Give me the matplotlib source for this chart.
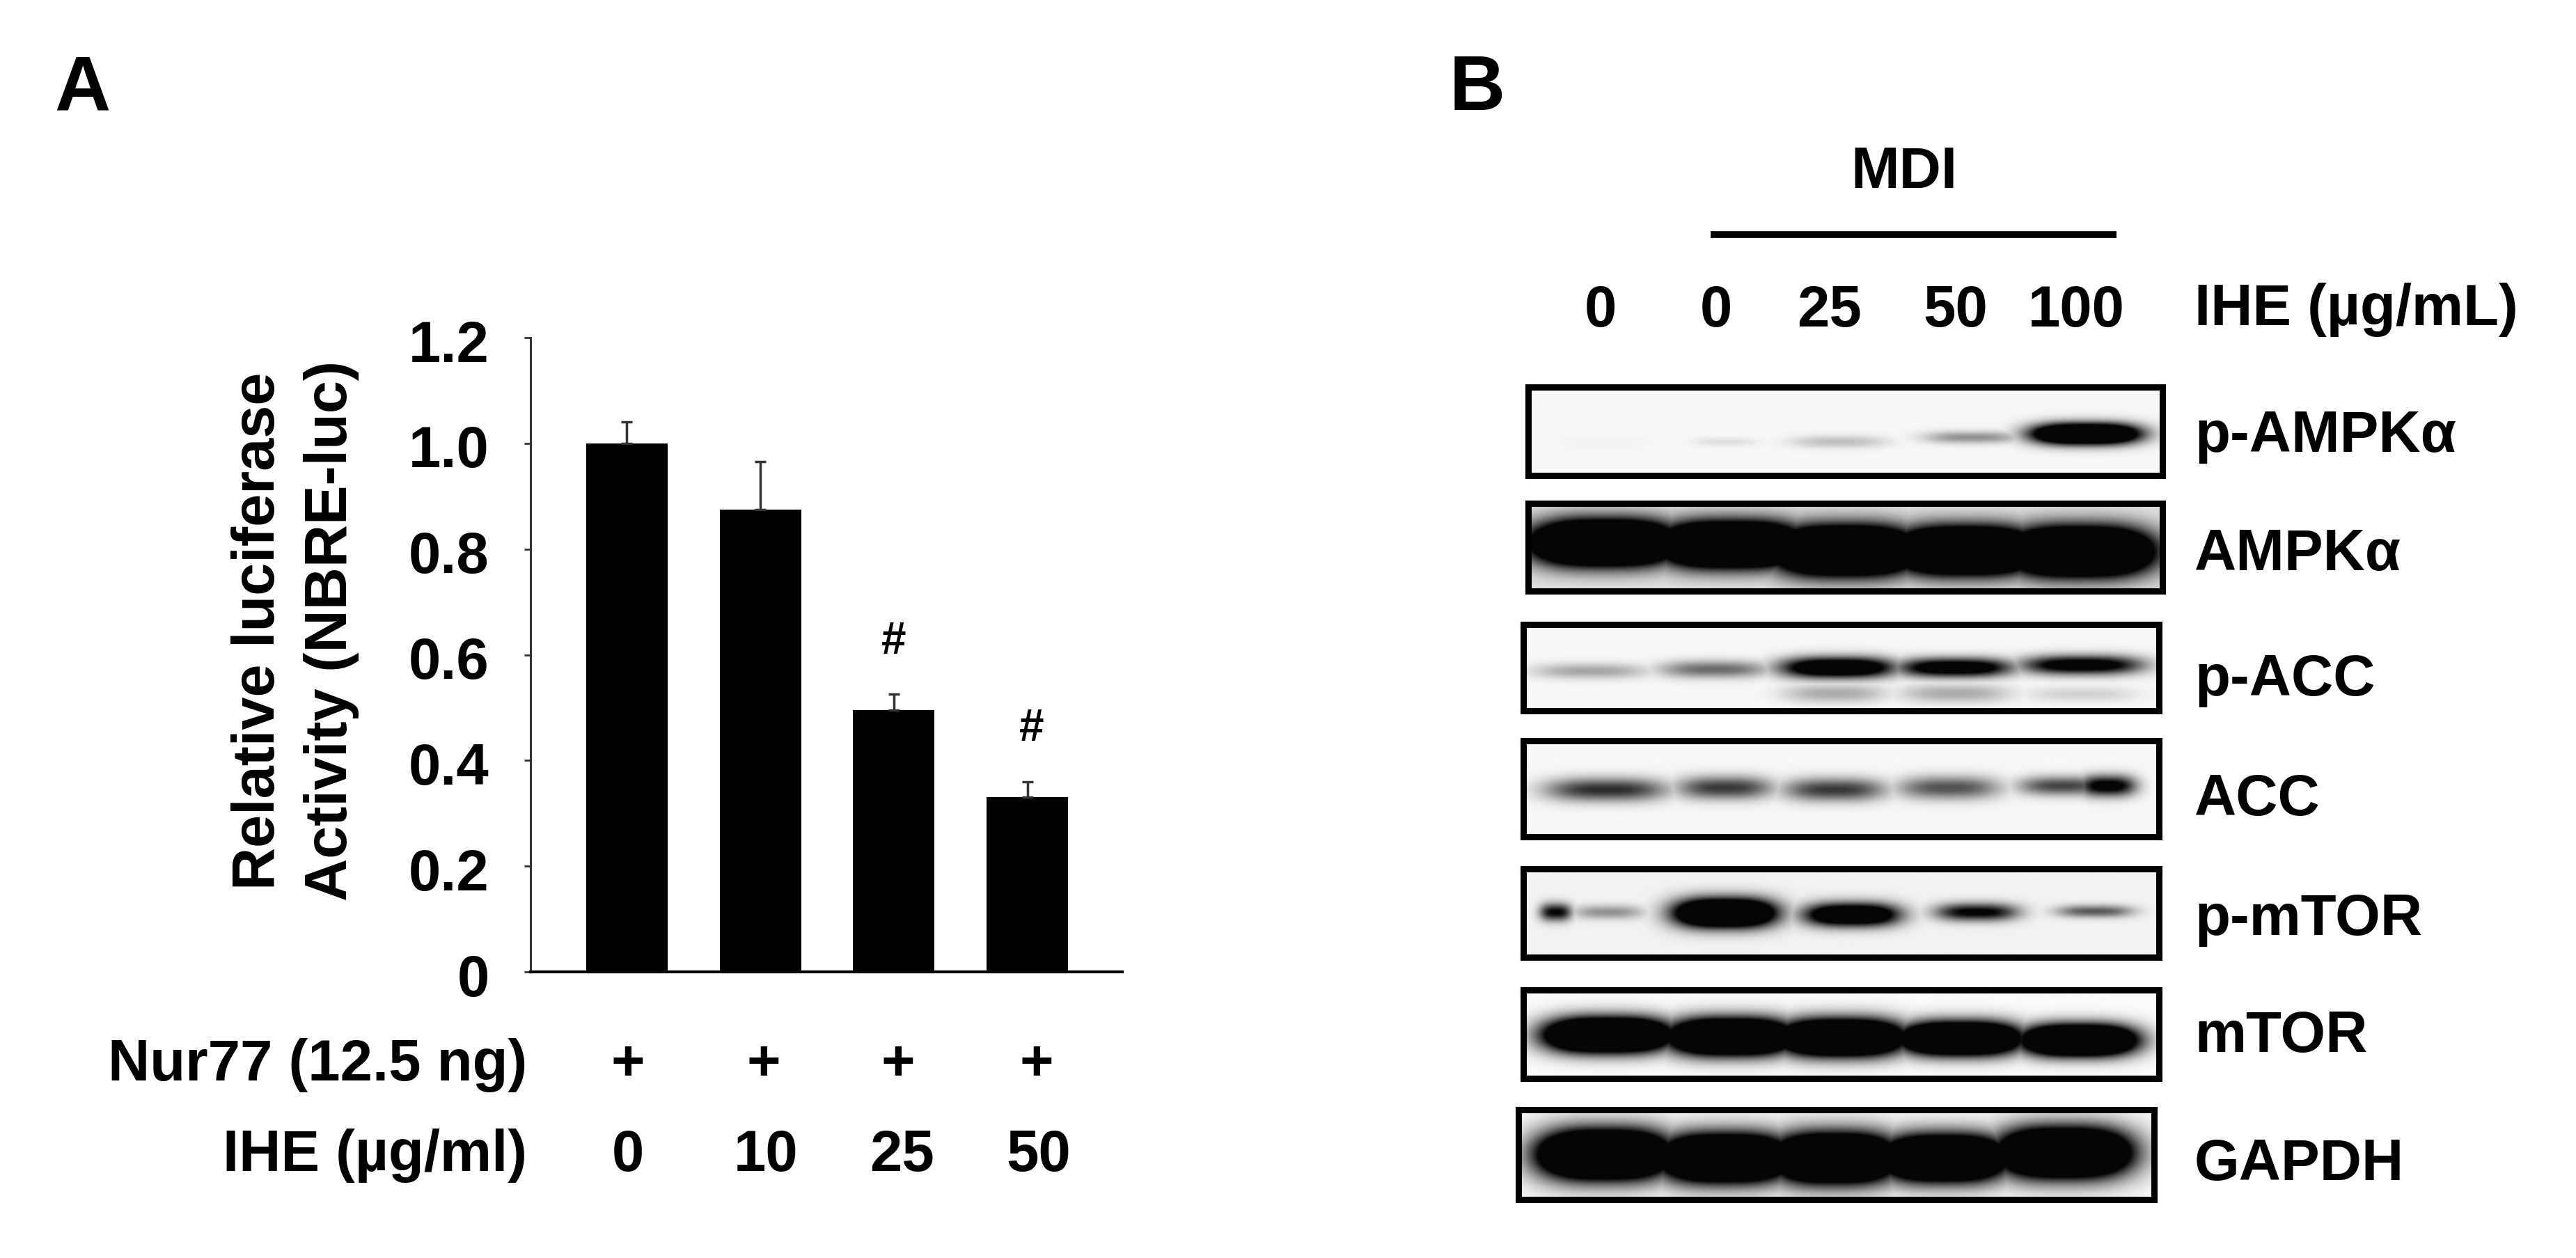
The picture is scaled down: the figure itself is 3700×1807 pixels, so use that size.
import numpy as np
import matplotlib
matplotlib.use("Agg")
import matplotlib.pyplot as plt
from matplotlib.transforms import ScaledTranslation

W, H = 3700, 1808
plt.rcParams['font.family'] = ['Liberation Sans', 'DejaVu Sans']
plt.rcParams['font.weight'] = 'bold'

# panel A data
ihe_doses = ['0', '10', '25', '50']
luc_activity = [1.0, 0.875, 0.495, 0.33]
luc_err = [0.04, 0.09, 0.03, 0.03]
sig_marks = ['', '', '#', '#']
sig_x = [0, 1, 2, 3.03]
ytick_vals = [0, 0.2, 0.4, 0.6, 0.8, 1.0, 1.2]
ytick_labels = ['0', '0.2', '0.4', '0.6', '0.8', '1.0', '1.2']

# panel B labels
mdi_doses = ['0', '0', '25', '50', '100']
mdi_dose_x = [2299, 2465, 2628, 2809, 2982]

# blot bands: (x, y, half width, half height, darkness), x and y as fraction of the blot
p_ampk_bands = [(.12, .62, .08, .08, .02), (.31, .62, .05, .05, .10), (.49, .62, .075, .07, .22),
                (.70, .57, .075, .07, .40), (.88, .53, .085, .115, 2.2)]
ampk_bands = [(.12, .45, .115, .25, 2.6), (.32, .47, .115, .25, 2.6), (.50, .54, .115, .27, 2.6),
              (.69, .54, .115, .26, 2.6), (.87, .55, .115, .27, 2.6)]
p_acc_bands = [(.105, .54, .09, .09, .32), (.30, .52, .085, .10, .55), (.495, .50, .09, .12, 1.5),
               (.68, .50, .09, .11, 1.3), (.88, .47, .095, .11, 1.2),
               (.49, .80, .08, .11, .30), (.68, .80, .085, .11, .30), (.88, .81, .085, .09, .15)]
acc_bands = [(.13, .51, .095, .12, .80), (.317, .49, .075, .12, .75), (.49, .51, .08, .12, .75),
             (.67, .49, .08, .12, .65), (.85, .47, .07, .10, .70), (.92, .47, .045, .11, 1.1)]
p_mtor_bands = [(.05, .49, .025, .10, .95), (.133, .49, .055, .08, .38), (.317, .50, .08, .16, 2.2),
                (.517, .52, .075, .13, 1.6), (.714, .49, .065, .10, 1.0), (.90, .48, .06, .07, .60)]
mtor_bands = [(.133, .51, .10, .19, 2.6), (.327, .53, .10, .20, 2.6), (.50, .54, .10, .20, 2.6),
              (.688, .55, .095, .18, 2.6), (.875, .57, .09, .17, 2.6)]
gapdh_bands = [(.135, .50, .105, .27, 2.6), (.325, .54, .105, .26, 2.6), (.497, .54, .10, .27, 2.6),
               (.669, .54, .10, .25, 2.6), (.858, .48, .105, .27, 2.6)]

blot_names = ['p-AMPKα', 'AMPKα', 'p-ACC', 'ACC', 'p-mTOR', 'mTOR', 'GAPDH']
blot_bands = [p_ampk_bands, ampk_bands, p_acc_bands, acc_bands, p_mtor_bands, mtor_bands, gapdh_bands]
blot_bg = [0.97, 0.90, 0.97, 0.97, 0.95, 0.985, 0.97]
# outer edges in pixels: left, right, top, bottom
blot_boxes = [(2190, 3110, 552, 688), (2190, 3110, 719, 854), (2183, 3105, 893, 1026),
              (2183, 3105, 1060, 1207), (2183, 3105, 1244, 1380), (2183, 3105, 1418, 1554),
              (2176, 3098, 1590, 1728)]
name_y = [619, 789, 968, 1140, 1312, 1480, 1665]


def px_text(x, y, s, size=60, ha='center', **kw):
    return fig.text(x / W, 1 - y / H, s, fontsize=size, ha=ha, va='center_baseline', **kw)


def blot_image(bands, bg, nx=460, ny=140):
    xx, yy = np.meshgrid(np.linspace(0, 1, nx), np.linspace(0, 1, ny))
    dark = np.zeros_like(xx)
    for x, y, w, h, d in bands:
        dark = np.maximum(dark, d * np.exp(-(np.abs((xx - x) / w) ** 3 + np.abs((yy - y) / h) ** 2)))
    return np.clip(bg - dark, 0.02, 1)


fig = plt.figure(figsize=(W / 100, H / 100), dpi=100, facecolor='white')

# A: bar chart
ax = fig.add_axes([762 / W, 1 - 1397 / H, (1612 - 762) / W, (1397 - 486) / H])
x = np.arange(len(luc_activity))
ax.bar(x, luc_activity, width=0.61, color='black')
ax.errorbar(x, luc_activity, yerr=[np.zeros(4), luc_err], fmt='none', ecolor='#333333',
            elinewidth=2.5, capsize=5.5, capthick=2.5)
for i in x:
    if sig_marks[i]:
        ax.text(sig_x[i], luc_activity[i] + luc_err[i] + 0.109, sig_marks[i], fontsize=46,
                ha='center', va='center_baseline')
ax.set_xlim(-0.72, 3.71)
ax.set_ylim(0, 1.2)
ax.set_xticks([])
ax.set_yticks(ytick_vals, ytick_labels)
ax.tick_params(axis='y', labelsize=60, length=6.5, width=2, color='#333333', pad=36)
shift = ScaledTranslation(0, -3 / 100, fig.dpi_scale_trans)
for lab in ax.get_yticklabels():
    lab.set_transform(lab.get_transform() + shift)
for s in ['top', 'right']:
    ax.spines[s].set_visible(False)
ax.spines['left'].set_linewidth(2.2)
ax.spines['left'].set_color('#333333')
ax.spines['bottom'].set_linewidth(3)
ax.set_ylabel('Relative luciferase\nActivity (NBRE-luc)', fontsize=61, fontweight='bold', linespacing=1.38)
ax.yaxis.set_label_coords((516 - 762) / (1612 - 762), (1397 - 906) / (1397 - 486))

px_text(757, 1522, 'Nur77 (12.5 ng)', ha='right')
px_text(757, 1652, 'IHE (µg/ml)', ha='right')
for px, dose in zip([902, 1097, 1290, 1489], ['+', '+', '+', '+']):
    px_text(px, 1522, dose)
for px, dose in zip([902, 1100, 1296, 1492], ihe_doses):
    px_text(px, 1652, dose)

px_text(118, 118, 'A', size=80)
px_text(2122, 118, 'B', size=80)

# B: western blots
px_text(2735, 239, 'MDI')
fig.add_artist(plt.Line2D([2457 / W, 3040 / W], [1 - 338 / H, 1 - 338 / H], color='black', lw=7,
                          solid_capstyle='butt'))
for px, dose in zip(mdi_dose_x, mdi_doses):
    px_text(px, 439, dose)
px_text(3152, 436, 'IHE (µg/mL)', ha='left')

for name, bands, bg, box, ny in zip(blot_names, blot_bands, blot_bg, blot_boxes, name_y):
    left, right, top, bottom = box
    t = 4.5
    b_ax = fig.add_axes([(left + t) / W, 1 - (bottom - t) / H, (right - left - 2 * t) / W, (bottom - top - 2 * t) / H])
    b_ax.imshow(blot_image(bands, bg), cmap='gray', vmin=0, vmax=1, extent=(0, 1, 1, 0),
                aspect='auto', interpolation='bilinear')
    b_ax.set_xticks([])
    b_ax.set_yticks([])
    for s in b_ax.spines.values():
        s.set_linewidth(6.5)
    px_text(3152, ny, name, ha='left')

fig.savefig('out.png', dpi=100)
